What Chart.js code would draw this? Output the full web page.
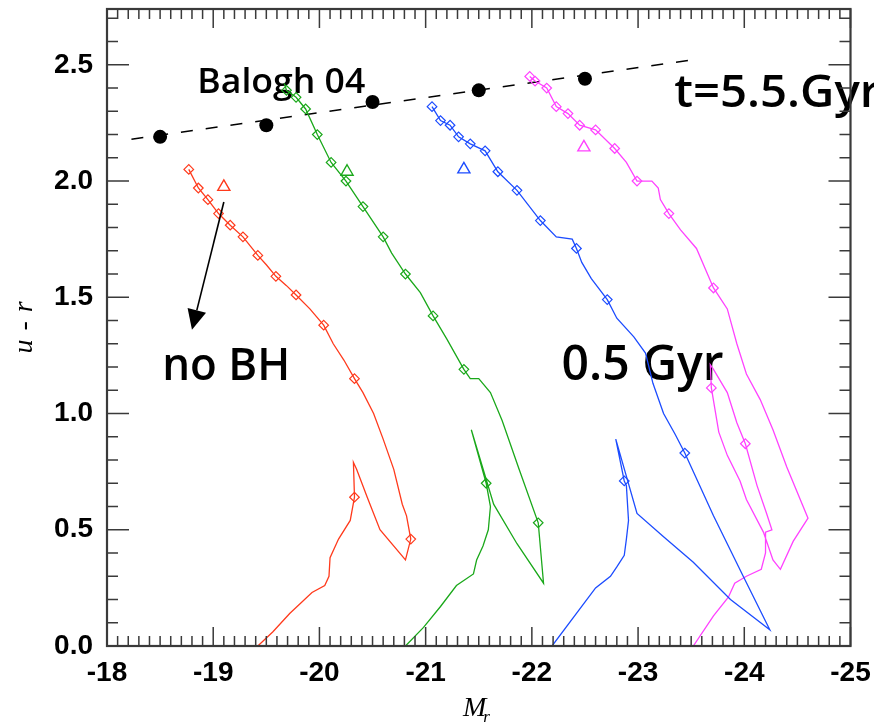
<!DOCTYPE html>
<html><head><meta charset="utf-8">
<script src="https://cdn.jsdelivr.net/npm/chart.js@4/dist/chart.umd.min.js"></script>
<style>html,body{margin:0;padding:0;background:#fff;}canvas{display:block;}</style>
</head><body>
<canvas id="c" width="874" height="726"></canvas>
<script>
// ---- axis ticks ----
const xTicks = [-18, -19, -20, -21, -22, -23, -24, -25];
const yTicks = [0, 0.5, 1.0, 1.5, 2.0, 2.5];

// ---- model tracks (M_r, u-r) ----
const redX = [-19.42,-19.56,-19.72,-19.93,-20.05,-20.09,-20.10,-20.18,-20.29,-20.33,-20.32,-20.35,-20.45,-20.57,-20.81,-20.86,-20.82,-20.78,-20.70,-20.60,-20.51,-20.41,-20.33,-20.23,-20.13,-20.04,-19.91,-19.78,-19.69,-19.59,-19.50,-19.42,-19.35,-19.28,-19.16,-19.05,-18.95,-18.86,-18.77];
const redY = [0.00,0.06,0.14,0.23,0.26,0.30,0.38,0.46,0.54,0.64,0.79,0.76,0.64,0.50,0.37,0.46,0.56,0.61,0.76,0.89,1.00,1.09,1.15,1.23,1.30,1.38,1.45,1.51,1.55,1.59,1.64,1.68,1.72,1.76,1.81,1.86,1.92,1.97,2.05];
const redMarks = [9,15,22,25,27,29,31,33,34,35,36,37,38];

const greenX = [-20.81,-20.98,-21.14,-21.29,-21.45,-21.48,-21.54,-21.59,-21.61,-21.57,-21.43,-21.64,-21.86,-22.11,-22.06,-21.88,-21.72,-21.61,-21.50,-21.42,-21.36,-21.20,-21.07,-20.95,-20.81,-20.68,-20.60,-20.41,-20.25,-20.11,-19.98,-19.87,-19.78,-19.69,-19.67];
const greenY = [0.00,0.08,0.17,0.26,0.31,0.37,0.43,0.50,0.60,0.70,0.93,0.61,0.44,0.27,0.53,0.76,0.97,1.09,1.15,1.15,1.19,1.32,1.42,1.52,1.60,1.69,1.76,1.89,2.00,2.08,2.20,2.31,2.36,2.39,2.42];
const greenMarks = [9,14,20,22,24,26,27,28,29,30,31,32,33];

const blueX = [-22.19,-22.42,-22.60,-22.74,-22.80,-22.87,-22.89,-22.91,-22.89,-22.87,-22.79,-22.99,-23.24,-23.52,-23.87,-24.24,-23.99,-23.71,-23.44,-23.35,-23.24,-23.14,-23.07,-22.96,-22.80,-22.71,-22.56,-22.47,-22.42,-22.38,-22.23,-22.08,-21.86,-21.68,-21.56,-21.42,-21.31,-21.23,-21.14,-21.06];
const blueY = [0.00,0.14,0.25,0.30,0.34,0.39,0.46,0.54,0.69,0.71,0.89,0.57,0.47,0.36,0.20,0.07,0.30,0.56,0.83,0.91,1.00,1.13,1.26,1.33,1.41,1.49,1.58,1.65,1.71,1.75,1.76,1.83,1.96,2.04,2.13,2.16,2.19,2.24,2.26,2.32];
const blueMarks = [9,18,25,28,31,32,33,34,35,36,37,38,39];

const magentaX = [-23.52,-23.71,-23.85,-23.91,-24.02,-24.16,-24.20,-24.20,-24.26,-24.21,-24.12,-24.01,-23.93,-23.84,-23.71,-23.68,-23.69,-23.76,-23.84,-23.96,-24.02,-24.18,-24.27,-24.34,-24.46,-24.60,-24.40,-24.27,-24.15,-24.02,-23.93,-23.84,-23.71,-23.55,-23.40,-23.29,-23.21,-23.19,-23.13,-22.99,-22.89,-22.78,-22.60,-22.45,-22.34,-22.23,-22.14,-22.03,-21.98];
const magentaY = [0.00,0.13,0.21,0.27,0.30,0.33,0.40,0.49,0.50,0.57,0.69,0.87,0.96,1.09,1.19,1.21,1.11,0.92,0.82,0.71,0.63,0.49,0.37,0.33,0.45,0.55,0.77,0.93,1.06,1.17,1.30,1.45,1.54,1.71,1.79,1.86,1.92,1.97,2.00,2.00,2.08,2.14,2.22,2.24,2.29,2.32,2.40,2.43,2.45];
const magentaMarks = [11,16,32,35,39,41,42,43,44,45,46,47,48];

// ---- triangles (red, green, blue, magenta) ----
const triX = [-19.10, -20.26, -21.36, -22.49];
const triY = [1.975, 2.04, 2.05, 2.145];

// ---- Balogh 04 points and fit ----
const baloghX = [-18.5, -19.5, -20.5, -21.5, -22.5];
const baloghY = [2.19, 2.24, 2.34, 2.39, 2.44];
const fitX = [-18.23, -23.50];
const fitY = [2.18, 2.52];

// ---- annotations (data coordinates) ----
const notes = [
  {text: 'Balogh 04', x: -18.85, y: 2.38, size: 35, w: 168},
  {text: 'no BH', x: -18.52, y: 1.146, size: 46, w: 128},
  {text: '0.5 Gyr', x: -22.28, y: 1.146, size: 48, w: 162},
  {text: 't=5.5.Gyr', x: -23.34, y: 2.32, size: 46, w: 206}
];
const arrowFrom = {x: -19.10, y: 1.91};
const arrowTo = {x: -18.80, y: 1.36};

const colors = {red: '#ff3a1c', green: '#1aa81a', blue: '#1c4cff', magenta: '#ff42ff'};
const pts = (xs, ys) => xs.map((v, i) => ({x: v, y: ys[i]}));

function track(xs, ys, marks, col) {
  return {
    data: pts(xs, ys), showLine: true, borderColor: col, borderWidth: 1.3,
    tension: 0, pointStyle: 'rectRot',
    pointRadius: c => marks.includes(c.dataIndex) ? 4.8 : 0,
    pointHoverRadius: c => marks.includes(c.dataIndex) ? 4.8 : 0,
    pointBorderColor: col, pointBackgroundColor: 'rgba(0,0,0,0)', pointBorderWidth: 1.2
  };
}

const decor = {
  id: 'decor',
  beforeDatasetsDraw(chart) {
    const {ctx, scales: {x, y}} = chart;
    ctx.save();
    ctx.fillStyle = '#000';
    ctx.textBaseline = 'alphabetic';
    ctx.textAlign = 'left';
    notes.forEach(n => {
      ctx.font = "600 " + n.size + "px 'Open Sans'";
      const m = ctx.measureText(n.text).width;
      const px = x.getPixelForValue(n.x), py = y.getPixelForValue(n.y);
      ctx.save();
      ctx.translate(px, py);
      ctx.scale(n.w / m, 1);
      ctx.fillText(n.text, 0, 0);
      ctx.restore();
    });
    ctx.restore();
  },
  afterDatasetsDraw(chart) {
    const {ctx, scales: {x, y}} = chart;
    const x0 = x.getPixelForValue(arrowFrom.x), y0 = y.getPixelForValue(arrowFrom.y);
    const x1 = x.getPixelForValue(arrowTo.x), y1 = y.getPixelForValue(arrowTo.y);
    const ang = Math.atan2(y1 - y0, x1 - x0);
    const hl = 20, hw = 9.5;
    const bx = x1 - hl * Math.cos(ang), by = y1 - hl * Math.sin(ang);
    ctx.save();
    ctx.strokeStyle = '#000'; ctx.fillStyle = '#000'; ctx.lineWidth = 1.6;
    ctx.beginPath(); ctx.moveTo(x0, y0); ctx.lineTo(bx, by); ctx.stroke();
    ctx.beginPath();
    ctx.moveTo(x1, y1);
    ctx.lineTo(bx + hw * Math.sin(ang), by - hw * Math.cos(ang));
    ctx.lineTo(bx - hw * Math.sin(ang), by + hw * Math.cos(ang));
    ctx.closePath(); ctx.fill();
    ctx.restore();
  },
  afterDraw(chart) {
    const {ctx, chartArea: a, scales: {x, y}} = chart;
    ctx.save();
    ctx.strokeStyle = '#3a3a3a';
    ctx.lineWidth = 1.5;
    ctx.beginPath();
    const nx = Math.round((x.max - x.min) / 0.1);
    for (let i = 0; i <= nx; i++) {
      const v = x.min + i * 0.1;
      const major = Math.abs(v - Math.round(v)) < 1e-6;
      const L = major ? 19 : 10;
      const px = x.getPixelForValue(v);
      ctx.moveTo(px, a.bottom); ctx.lineTo(px, a.bottom - L);
      ctx.moveTo(px, a.top); ctx.lineTo(px, a.top + L);
    }
    const ny = Math.floor((y.max - y.min) / 0.1 + 1e-6);
    for (let i = 0; i <= ny; i++) {
      const v = y.min + i * 0.1;
      const major = Math.abs(v * 2 - Math.round(v * 2)) < 1e-6;
      const L = major ? 22 : 11;
      const py = y.getPixelForValue(v);
      ctx.moveTo(a.left, py); ctx.lineTo(a.left + L, py);
      ctx.moveTo(a.right, py); ctx.lineTo(a.right - L, py);
    }
    ctx.stroke();
    ctx.lineWidth = 2.2;
    ctx.strokeRect(a.left, a.top, a.right - a.left, a.bottom - a.top);
    // axis titles
    ctx.fillStyle = '#000';
    ctx.textBaseline = 'alphabetic';
    ctx.textAlign = 'left';
    ctx.font = "italic 28px 'Liberation Serif'";
    const mx = 463, my = 716;
    ctx.fillText('M', mx, my);
    const mw = ctx.measureText('M').width;
    ctx.font = "italic 17px 'Liberation Serif'";
    ctx.fillText('r', mx + mw - 3, my + 6);
    ctx.save();
    ctx.translate(32, 327);
    ctx.rotate(-Math.PI / 2);
    ctx.textAlign = 'center';
    ctx.font = "italic 28px 'Liberation Serif'";
    try { ctx.letterSpacing = '1px'; } catch (e) {}
    ctx.fillText('u - r', 0, 0);
    ctx.restore();
    ctx.restore();
  }
};

new Chart(document.getElementById('c'), {
  type: 'scatter',
  data: {
    datasets: [
      track(redX, redY, redMarks, colors.red),
      track(greenX, greenY, greenMarks, colors.green),
      track(blueX, blueY, blueMarks, colors.blue),
      track(magentaX, magentaY, magentaMarks, colors.magenta),
      {
        data: pts(triX, triY), showLine: false, pointStyle: 'triangle', pointRadius: 7, pointHoverRadius: 7,
        pointBorderColor: [colors.red, colors.green, colors.blue, colors.magenta],
        pointBackgroundColor: 'rgba(0,0,0,0)', pointBorderWidth: 1.4
      },
      {
        data: pts(fitX, fitY), showLine: true, borderColor: '#000', borderWidth: 1.5,
        borderDash: [12, 13], pointRadius: 0, pointHoverRadius: 0
      },
      {
        data: pts(baloghX, baloghY), showLine: false, pointStyle: 'circle', pointRadius: 7, pointHoverRadius: 7,
        pointBackgroundColor: '#000', pointBorderColor: '#000', pointBorderWidth: 0
      }
    ]
  },
  options: {
    responsive: false, animation: false, events: [], devicePixelRatio: 1,
    layout: {padding: {left: 0, top: 9, right: 23.5, bottom: 0}},
    plugins: {legend: {display: false}, tooltip: {enabled: false}},
    scales: {
      x: {
        type: 'linear', min: -25, max: -18, reverse: true, position: 'bottom',
        grid: {display: false, drawTicks: false}, border: {display: false},
        afterBuildTicks: s => { s.ticks = xTicks.map(v => ({value: v})); },
        afterFit: s => { s.height = 80; s.paddingLeft = 0; s.paddingRight = 0; },
        ticks: {color: '#000', padding: 10, maxRotation: 0, autoSkip: false,
          font: {family: "'Liberation Sans'", size: 28, weight: 'bold'},
          callback: v => String(v)}
      },
      y: {
        type: 'linear', min: 0, max: 2.74, position: 'left',
        grid: {display: false, drawTicks: false}, border: {display: false},
        afterBuildTicks: s => { s.ticks = yTicks.map(v => ({value: v})); },
        afterFit: s => { s.width = 107; s.paddingTop = 0; s.paddingBottom = 0; },
        ticks: {color: '#000', padding: 14, autoSkip: false,
          font: {family: "'Liberation Sans'", size: 28, weight: 'bold'},
          callback: v => Number(v).toFixed(1)}
      }
    }
  },
  plugins: [decor]
});
</script>
</body></html>
